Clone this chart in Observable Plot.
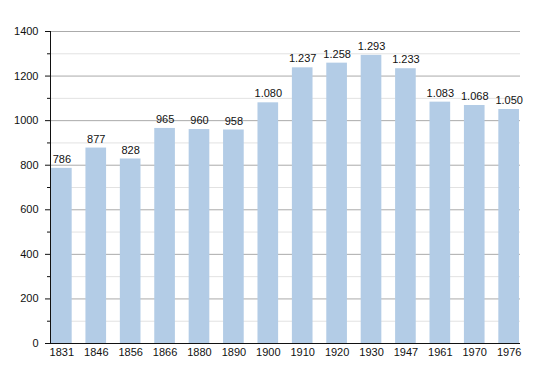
<!DOCTYPE html>
<html>
<head>
<meta charset="utf-8">
<script src="https://cdn.jsdelivr.net/npm/d3@7"></script>
<script src="https://cdn.jsdelivr.net/npm/@observablehq/plot@0.6"></script>
<style>
  html, body { margin: 0; padding: 0; background: #fff; }
  svg { display: block; }
</style>
</head>
<body>
<div id="chart"></div>
<script>
const years = ["1831","1846","1856","1866","1880","1890","1900","1910","1920","1930","1947","1961","1970","1976"];
const population = [786, 877, 828, 965, 960, 958, 1080, 1237, 1258, 1293, 1233, 1083, 1068, 1050];
const majorTicks = [0, 200, 400, 600, 800, 1000, 1200, 1400];
const minorTicks = [100, 300, 500, 700, 900, 1100, 1300];

const data = years.map((y, i) => ({year: y, pop: population[i]}));
const fmt = d3.formatLocale({thousands: ".", decimal: ",", grouping: [3], currency: ["", ""]}).format(",");

const chart = Plot.plot({
  width: 550,
  height: 373,
  marginLeft: 50,
  marginRight: 30,
  marginTop: 31,
  marginBottom: 30,
  style: {fontFamily: "'Liberation Sans', Arial, Helvetica, sans-serif", fontSize: "11px", color: "#111", background: "#fff"},
  x: {domain: years, paddingInner: 0.4, paddingOuter: 0.03, round: false, label: null},
  y: {domain: [0, 1400], label: null},
  marks: [
    Plot.ruleY(minorTicks, {stroke: "#e2e2e2", strokeWidth: 1}),
    Plot.ruleY(majorTicks.filter(d => d > 0), {stroke: "#ababab", strokeWidth: 1}),
    Plot.barY(data, {x: "year", y: "pop", fill: "#b3cce6"}),
    Plot.text(data, {x: "year", y: "pop", text: d => fmt(d.pop), dy: -9, fill: "#111", fontSize: 11}),
    Plot.axisY({ticks: minorTicks, tickSize: 3, text: null, stroke: "#111"}),
    Plot.axisY({ticks: majorTicks, tickSize: 5, tickPadding: 7, tickFormat: d => String(d), stroke: "#111", fill: "#111"}),
    Plot.axisX({tickSize: 0, tickPadding: 5, fill: "#111"}),
    Plot.frame({anchor: "left", stroke: "#111"}),
    Plot.ruleY([0], {stroke: "#111"})
  ]
});
document.getElementById("chart").appendChild(chart);
</script>
</body>
</html>
